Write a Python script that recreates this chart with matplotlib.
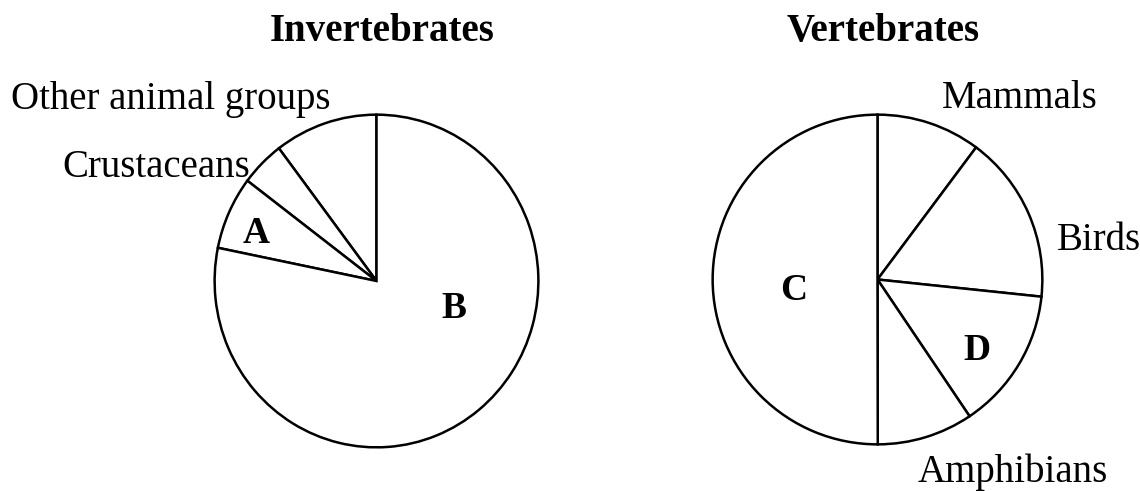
import matplotlib
matplotlib.use('Agg')
import matplotlib.pyplot as plt

# invertebrates: counterclockwise from the top
invert_names = ['Other animal groups', 'Crustaceans', 'A', 'B']
invert_share = [10.3, 4.4, 7.1, 78.2]

# vertebrates: clockwise from the top
vert_names = ['Mammals', 'Birds', 'D', 'Amphibians', 'C']
vert_share = [10.2, 16.45, 13.9, 9.4, 50.0]

W, H = 1140, 491
SERIF = ['Liberation Serif', 'DejaVu Serif']


def px_axes(fig, left, top, right, bottom):
    # axes placed by pixel box of the circle
    return fig.add_axes([left / W, 1 - bottom / H, (right - left) / W, (bottom - top) / H])


def px_text(fig, x, y, s, **kw):
    fig.text(x / W, 1 - y / H, s, family=SERIF, **kw)


def draw_pie(ax, values, counterclock):
    ax.pie(values, startangle=90, counterclock=counterclock,
           colors=['white'] * len(values),
           wedgeprops=dict(edgecolor='black', linewidth=1.8))
    ax.set_aspect('auto')
    ax.set_xlim(-1.01, 1.01)
    ax.set_ylim(-1.01, 1.01)
    ax.axis('off')


def create_graph():
    fig = plt.figure(figsize=(W / 100, H / 100), dpi=100)

    ax1 = px_axes(fig, 213, 113, 540, 449)
    draw_pie(ax1, invert_share, True)
    ax2 = px_axes(fig, 711, 113, 1044, 446)
    draw_pie(ax2, vert_share, False)

    # titles
    px_text(fig, 382, 41, 'Invertebrates', fontsize=28, weight='bold', ha='center', va='baseline')
    px_text(fig, 883, 41, 'Vertebrates', fontsize=28, weight='bold', ha='center', va='baseline')

    # outside labels
    px_text(fig, 11, 109, invert_names[0], fontsize=28, ha='left', va='baseline')
    px_text(fig, 62, 177, invert_names[1], fontsize=28, ha='left', va='baseline')
    px_text(fig, 942, 108, vert_names[0], fontsize=28, ha='left', va='baseline')
    px_text(fig, 1057, 250, vert_names[1], fontsize=28, ha='left', va='baseline')
    px_text(fig, 918, 482, vert_names[3], fontsize=28, ha='left', va='baseline')

    # letters inside wedges
    px_text(fig, 256, 243, invert_names[2], fontsize=27, weight='bold', ha='center', va='baseline')
    px_text(fig, 454, 318, invert_names[3], fontsize=27, weight='bold', ha='center', va='baseline')
    px_text(fig, 794, 300, vert_names[4], fontsize=27, weight='bold', ha='center', va='baseline')
    px_text(fig, 977, 360, vert_names[2], fontsize=27, weight='bold', ha='center', va='baseline')

    fig.savefig('out.png', dpi=100, facecolor='white')


if __name__ == '__main__':
    create_graph()
